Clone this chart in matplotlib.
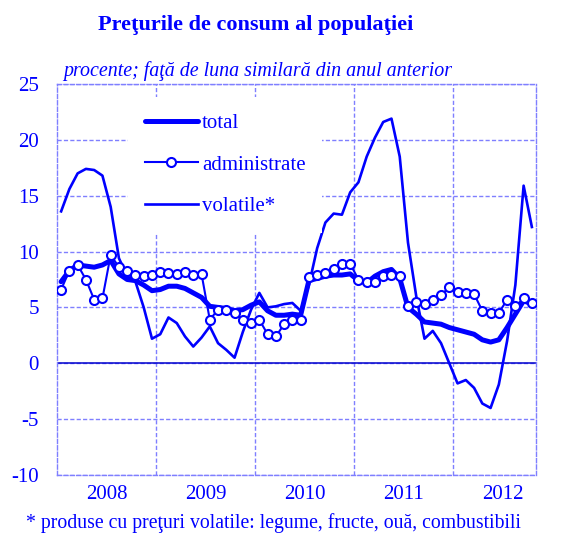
"""
Consumer price index chart (Romanian): total, administered and volatile prices,
monthly year-on-year changes, Jan 2008 - Oct 2012.
"""

import matplotlib
matplotlib.use("Agg")
import matplotlib.pyplot as plt
import numpy as np

FONT = "Liberation Serif"
BLUE = "#0000FF"
GRID = "#7F7FFF"

YEARS = ["2008", "2009", "2010", "2011", "2012"]

TOTAL = [7.3, 8.3, 8.8, 8.7, 8.6, 8.8, 9.2, 8.0, 7.5, 7.4,
         7.0, 6.5, 6.6, 6.9, 6.9, 6.7, 6.3, 5.9, 5.1, 5.0,
         4.9, 4.7, 4.8, 5.2, 5.5, 4.7, 4.3, 4.3, 4.4, 4.3,
         7.4, 7.6, 7.8, 7.9, 7.9, 8.0, 7.4, 7.2, 7.8, 8.2,
         8.4, 7.6, 5.0, 4.4, 3.7, 3.6, 3.5, 3.2, 3.0, 2.8,
         2.6, 2.1, 1.9, 2.1, 3.2, 4.4, 5.6, 5.3]

ADMINISTRATE = [6.6, 8.3, 8.8, 7.5, 5.7, 5.8, 9.7, 8.6, 8.3, 7.9,
                7.8, 7.9, 8.2, 8.1, 8.0, 8.2, 7.9, 8.0, 3.9, 4.8,
                4.8, 4.5, 3.9, 3.6, 3.9, 2.6, 2.4, 3.5, 3.9, 3.9,
                7.7, 7.9, 8.1, 8.4, 8.9, 8.9, 7.5, 7.3, 7.3, 7.8,
                7.9, 7.8, 5.1, 5.5, 5.3, 5.7, 6.1, 6.8, 6.4, 6.3,
                6.2, 4.7, 4.5, 4.5, 5.7, 5.1, 5.8, 5.4]

VOLATILE = [13.6, 15.6, 17.0, 17.4, 17.3, 16.8, 14.0, 9.4, 7.8, 7.3,
            5.0, 2.2, 2.6, 4.1, 3.6, 2.4, 1.5, 2.3, 3.3, 1.8,
            1.2, 0.5, 2.8, 4.8, 6.3, 5.0, 5.1, 5.3, 5.4, 4.7,
            7.0, 10.3, 12.6, 13.4, 13.3, 15.3, 16.2, 18.5, 20.2, 21.6,
            21.9, 18.5, 10.8, 6.0, 2.2, 2.9, 1.8, 0.0, -1.8, -1.5,
            -2.2, -3.6, -4.0, -1.9, 2.0, 7.0, 15.9, 12.2]


def main():
    plt.rcParams["font.family"] = FONT
    plt.rcParams["axes.unicode_minus"] = False
    n = len(TOTAL)
    x = np.arange(n) + 0.5

    fig = plt.figure(figsize=(5.65, 5.34), dpi=100)
    ax = fig.add_axes([57 / 565, 59 / 534, 479 / 565, 391 / 534])

    ax.plot(x, VOLATILE, color=BLUE, lw=1.9, label="volatile*", zorder=3)
    ax.plot(x, TOTAL, color=BLUE, lw=3.6, label="total", zorder=3,
            solid_capstyle="round")
    ax.plot(x, ADMINISTRATE, color=BLUE, lw=1.5, marker="o", ms=6.5,
            mfc="white", mec=BLUE, mew=1.5, label="administrate", zorder=4)
    ax.axhline(0, color="#0000CC", lw=1.1, zorder=2)

    ax.set_xlim(0, n)
    ax.set_ylim(-10, 25)
    ax.set_yticks(range(-10, 26, 5))
    ax.set_xticks([6 + 12 * i for i in range(len(YEARS))])
    ax.set_xticklabels(YEARS)
    ax.set_xticks([12 * i for i in range(1, len(YEARS))], minor=True)
    ax.tick_params(axis="both", which="both", length=0, colors=BLUE,
                   labelsize=15)
    ax.tick_params(axis="y", pad=13)
    ax.tick_params(axis="x", pad=7)

    dash = (0, (3, 1.6))
    ax.grid(axis="y", which="major", color=GRID, lw=1.0, linestyle=dash)
    ax.grid(axis="x", which="minor", color=GRID, lw=1.0, linestyle=dash)
    ax.grid(axis="x", which="major", visible=False)
    for sp in ax.spines.values():
        sp.set_color(GRID)
        sp.set_linestyle(dash)
        sp.set_linewidth(1.0)

    handles, labels = ax.get_legend_handles_labels()
    order = [1, 2, 0]
    leg = ax.legend([handles[i] for i in order], [labels[i] for i in order],
                    loc="upper left", bbox_to_anchor=(0.148, 0.967),
                    borderaxespad=0, borderpad=0.8, frameon=True,
                    fancybox=False, framealpha=1, edgecolor="none",
                    facecolor="white", fontsize=15, handlelength=2.55,
                    handletextpad=0.2, labelspacing=1.05)
    for t in leg.get_texts():
        t.set_color(BLUE)

    fig.text(256 / 565, 1 - 25 / 534, "Preţurile de consum al populaţiei",
             ha="center", va="center", fontsize=16, weight="bold", color=BLUE)
    fig.text(258 / 565, 1 - 71 / 534,
             "procente; faţă de luna similară din anul anterior",
             ha="center", va="center", fontsize=14.4, style="italic", color=BLUE)
    fig.text(273 / 565, 1 - 523 / 534,
             "* produse cu preţuri volatile: legume, fructe, ouă, combustibili",
             ha="center", va="center", fontsize=14.2, color=BLUE)

    fig.savefig("out.png", dpi=100)
    plt.close(fig)


if __name__ == "__main__":
    main()
